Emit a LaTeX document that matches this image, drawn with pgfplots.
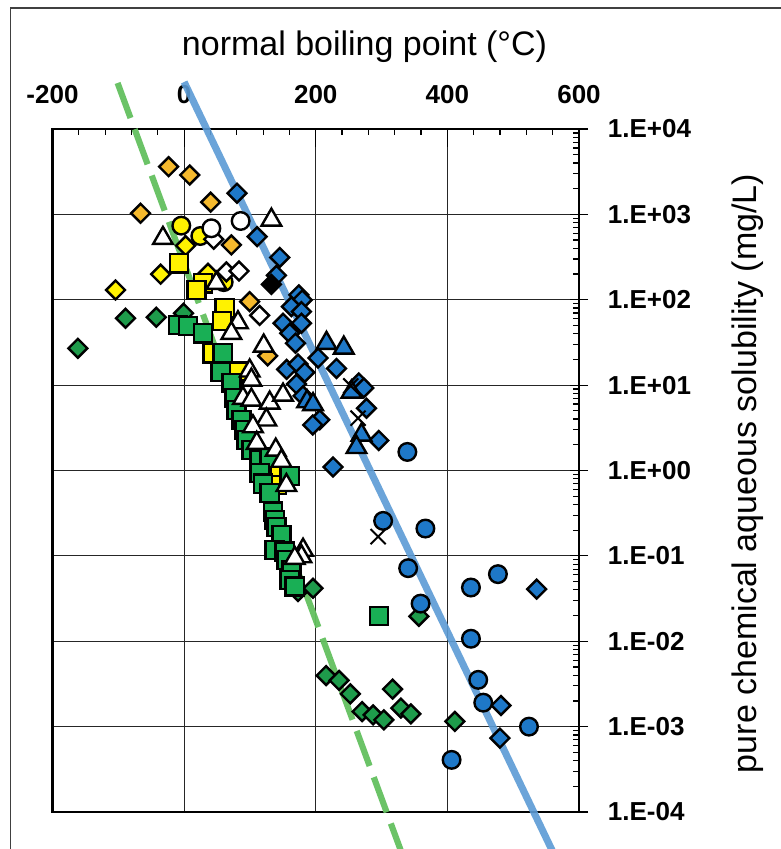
\documentclass[border=0pt]{standalone}
\usepackage{fontspec}
\setmainfont{Liberation Sans}
\usepackage{pgfplots}
\pgfplotsset{compat=1.18}

\definecolor{mkorange}{RGB}{245,185,45}
\definecolor{mkyellow}{RGB}{255,242,0}
\definecolor{mkdgreen}{RGB}{30,155,75}
\definecolor{mkgreen}{RGB}{25,175,85}
\definecolor{mkblue}{RGB}{30,120,200}
\definecolor{lineblue}{RGB}{91,155,213}
\definecolor{linegreen}{RGB}{100,192,95}

\pgfplotsset{
  diam/.style={only marks, mark=square*, mark size=5pt,
    mark options={rotate=45, fill=#1, draw=black, line width=1.8pt}},
  circ/.style={only marks, mark=*, mark size=6.6pt,
    mark options={fill=#1, draw=black, line width=1.8pt}},
  sqr/.style={only marks, mark=square*, mark size=6.8pt,
    mark options={fill=#1, draw=black, line width=1.8pt}},
  tri/.style={only marks, mark=triangle*, mark size=8.5pt,
    mark options={fill=#1, draw=black, line width=1.8pt}},
}

\begin{document}
\begin{tikzpicture}
\useasboundingbox (0,0) rectangle (585.75pt,636.75pt);
\clip (0,0) rectangle (585.75pt,636.75pt);
\fill[white] (0,0) rectangle (585.75pt,636.75pt);
% chart area border
\draw[black!75, line width=1.1pt] (7.9pt,-5pt) -- (7.9pt,630.75pt) -- (600pt,630.75pt);

\begin{axis}[
  at={(39.375pt,27.75pt)}, anchor=south west,
  scale only axis, width=394.875pt, height=512.25pt,
  xmin=-200, xmax=600, ymin=1e-4, ymax=1e4, ymode=log,
  clip=false,
  axis line style={line width=1.6pt, black},
  xtick={-200,0,200,400,600},
  xticklabels={-200,0,200,400,600},
  minor x tick num=4,
  ytick={1e-4,1e-3,1e-2,1e-1,1,10,100,1000,10000},
  yticklabels={1.E-04,1.E-03,1.E-02,1.E-01,1.E+00,1.E+01,1.E+02,1.E+03,1.E+04},
  xtick pos=right, xticklabel pos=right,
  ytick pos=right, yticklabel pos=right,
  tick align=inside,
  major tick length=13.5pt, minor tick length=4.5pt,
  every tick/.style={black, line width=0.9pt},
  major y tick style={xshift=6.75pt},
  grid=major, major grid style={black!85, line width=0.8pt},
  minor grid style={draw=none},
  xticklabel style={font=\fontsize{19.5}{22}\bfseries\selectfont, anchor=base, inner sep=0pt, yshift=18.75pt},
  yticklabel style={font=\fontsize{19.5}{22}\bfseries\selectfont, anchor=west, inner sep=0pt, xshift=21.5pt},
  xlabel={normal boiling point (°C)},
  ylabel={pure chemical aqueous solubility (mg/L)},
  every axis x label/.style={at={(axis description cs:0.5926,1.1069)}, anchor=base,
    font=\fontsize{25.5}{30}\selectfont},
  every axis y label/.style={at={(axis description cs:1.3371,0.4956)}, anchor=base, rotate=90,
    font=\fontsize{25.5}{30}\selectfont},
]

% orange diamonds
\addplot[diam=mkorange] coordinates {
  (-23.6,3620) (8.4,2890) (40.3,1390) (-66.2,1030) (71.8,438) (99.6,95) (127,22)};
% yellow diamonds
\addplot[diam=mkyellow] coordinates {
  (2.3,430) (-35.7,199) (-104.2,130) (36.2,204)};
% dark green diamonds
\addplot[diam=mkdgreen] coordinates {
  (-161.5,27) (-89,60.7) (-42.3,62.4) (-0.8,69.5) (173.1,0.0382) (195.9,0.0417)
  (356.7,0.0196) (215.7,3.96e-3) (235.5,3.48e-3) (252.5,2.42e-3) (270.4,1.50e-3)
  (287.2,1.37e-3) (303.4,1.20e-3) (316.7,2.75e-3) (329.3,1.65e-3) (344.5,1.41e-3)
  (411.4,1.15e-3)};
% yellow squares
\addplot[sqr=mkyellow] coordinates {
  (-7.6,267) (28.6,156) (18.6,130) (61.6,79.4) (57.8,56.5) (43.3,23.6) (82.9,14.4)
  (145.3,0.93) (140.7,0.678)};
% green squares
\addplot[sqr=mkgreen] coordinates {
  (-9.4,50.7) (5.8,49.3) (28.6,40.5) (58.6,23.8) (55.5,14.3) (71.8,10.6) (76.8,7.08)
  (79.4,5.13) (87,3.92) (92,2.99) (94.6,2.28) (102.2,1.74) (114.8,1.33) (130,1.41)
  (114.8,0.94) (160.5,0.865) (119.9,0.70) (130,0.547) (135.1,0.33) (137.6,0.264)
  (140.2,0.219) (147.8,0.176) (137.6,0.117) (152.9,0.112) (155.4,0.0897)
  (163,0.0686) (160.5,0.0524) (168.1,0.0437) (296.3,0.0198)};
% yellow circles
\addplot[circ=mkyellow] coordinates {(-4.3,738) (24.6,558) (60.1,161)};
% white diamonds
\addplot[diam=white] coordinates {(44.9,511) (64.2,212) (83.4,217) (114.8,65.5)};
% white circles
\addplot[circ=white] coordinates {(41.4,687) (85.9,837)};
% blue diamonds
\addplot[diam=mkblue] coordinates {
  (80.3,1770) (111,548) (145.3,313) (140.2,193) (174.2,114) (179.5,99.5) (163,83)
  (178.3,72.6) (150.3,53.1) (178.3,53.1) (160.5,40.5) (169.3,31) (155.9,15.3)
  (173.1,17.7) (183.3,14.1) (170.7,10.3) (180.7,7.48) (206.1,3.92) (195.4,3.42)
  (231.5,15.7) (203.5,20.8) (265.4,10.6) (273,9.27) (277.1,5.36) (295.8,2.25)
  (226.3,1.10) (535.7,0.0408) (481.4,1.77e-3) (479.9,7.33e-4)};
% black diamond
\addplot[diam=black] coordinates {(132.6,151)};
% blue circles
\addplot[circ=mkblue] coordinates {
  (339.2,1.65) (302.4,0.257) (366.6,0.209) (340.4,0.0718) (435.8,0.0426)
  (476.8,0.0611) (359.3,0.0276) (435.8,0.0107) (446.9,3.53e-3) (454.5,1.91e-3)
  (524,1.0e-3) (406.4,4.08e-4)};
% white triangles
\addplot[tri=white] coordinates {
  (-32.2,525) (132.6,860) (49,156) (81.8,54) (71.8,40.5) (120.9,28.8) (99.6,14.7)
  (102.2,11.5) (89.4,7.03) (102.2,6.71) (130,6.19) (150.3,7.67) (125,3.92)
  (104.6,3.27) (110.3,2.09) (139.2,1.74) (147.8,1.29) (155.4,0.67) (180.7,0.117)
  (178.3,0.098) (168.1,0.094)};
% blue triangles
\addplot[tri=mkblue] coordinates {
  (216.3,31) (242.6,27.3) (186.8,6.41) (195.9,5.94) (254.3,8.32) (269.5,2.61)
  (261.9,1.87)};
% crosses
\addplot[only marks, mark=x, mark size=8pt, mark options={draw=black, line width=1.5pt}]
  coordinates {(264.3,4.1) (294.8,0.168) (253.2,9.8)};

% trend lines
\addplot[no marks, color=lineblue, line width=5.3pt, opacity=0.9]
  coordinates {(0,3.55e4) (560,3.44e-5)};
\addplot[no marks, color=linegreen, line width=4.6pt, opacity=0.95, dash pattern=on 28pt off 9pt]
  coordinates {(-101.1,3.46e4) (332.2,3.07e-5)};
\end{axis}
\end{tikzpicture}
\end{document}
